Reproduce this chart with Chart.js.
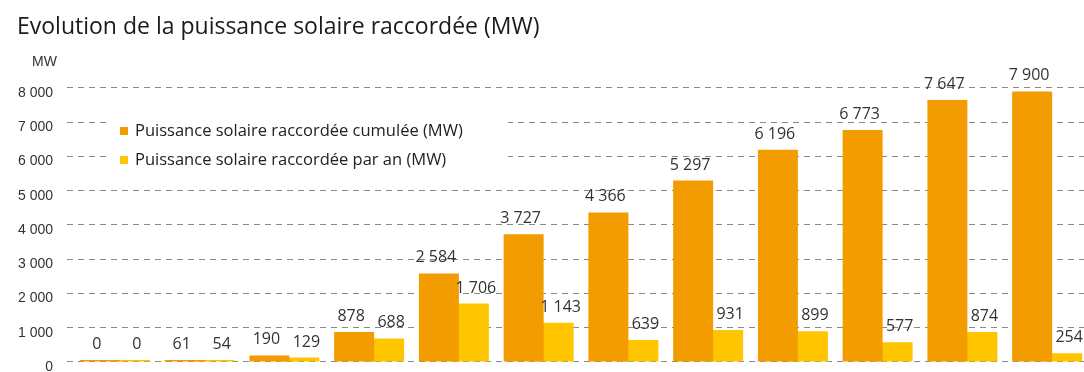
<!DOCTYPE html>
<html lang="fr">
<head>
<meta charset="utf-8">
<title>Evolution de la puissance solaire raccordée (MW)</title>
<script src="https://cdn.jsdelivr.net/npm/chart.js@4/dist/chart.umd.min.js"></script>
<style>
  html, body { margin: 0; padding: 0; background: #fff; overflow: hidden; }
  #wrap { width: 1084px; height: 372px; position: relative; }
</style>
</head>
<body>
<div id="wrap"><canvas id="c"></canvas></div>
<script>
// Series (MW)
const cumulee = [0, 61, 190, 878, 2584, 3727, 4366, 5297, 6196, 6773, 7647, 7900];
const parAn   = [0, 54, 129, 688, 1706, 1143, 639, 931, 899, 577, 874, 254];
const seriesLabels = [
  'Puissance solaire raccordée cumulée (MW)',
  'Puissance solaire raccordée par an (MW)'
];
const seriesColors = ['#F39C00', '#FFC600'];
const yTickValues = [0, 1000, 2000, 3000, 4000, 5000, 6000, 7000, 8000];
const titleText = 'Evolution de la puissance solaire raccordée (MW)';
const unitText = 'MW';

// "7900" -> "7 900"
const fmt = v => String(v).replace(/\B(?=(\d{3})+(?!\d))/g, ' ');
const slots = cumulee.map((_, i) => i);

// value labels above each bar
const valueLabels = {
  id: 'valueLabels',
  afterDatasetsDraw(chart) {
    const ctx = chart.ctx;
    const shift = [-3, 7];
    ctx.save();
    ctx.font = '16px "Open Sans", sans-serif';
    ctx.fillStyle = '#333';
    ctx.textAlign = 'center';
    ctx.textBaseline = 'alphabetic';
    chart.data.datasets.forEach((ds, di) => {
      chart.getDatasetMeta(di).data.forEach((bar, i) => {
        ctx.fillText(fmt(ds.data[i].y), bar.x + shift[di], bar.y - 11);
      });
    });
    ctx.restore();
  }
};

// legend box sitting inside the plot, over the grid lines
const innerLegend = {
  id: 'innerLegend',
  beforeDatasetsDraw(chart) {
    const ctx = chart.ctx;
    const a = chart.chartArea;
    const x0 = a.left + 43, y0 = 113;
    ctx.save();
    ctx.fillStyle = '#fff';
    ctx.fillRect(x0, y0, 398, 57);
    ctx.font = '16.5px "Open Sans", sans-serif';
    ctx.textBaseline = 'middle';
    ctx.textAlign = 'left';
    chart.data.datasets.forEach((ds, di) => {
      const cy = y0 + 18 + di * 29;
      ctx.fillStyle = ds.backgroundColor;
      ctx.fillRect(x0 + 10, cy - 4, 8, 8);
      ctx.fillStyle = '#222';
      ctx.fillText(ds.label, x0 + 25, cy);
    });
    ctx.restore();
  }
};

// unit above the value axis
const unitLabel = {
  id: 'unitLabel',
  afterDraw(chart) {
    const ctx = chart.ctx;
    const a = chart.chartArea;
    ctx.save();
    ctx.font = '14px "Liberation Sans", Arial, sans-serif';
    ctx.fillStyle = '#333';
    ctx.textAlign = 'right';
    ctx.textBaseline = 'middle';
    ctx.fillText(unitText, a.left - 10, 62);
    ctx.restore();
  }
};

new Chart(document.getElementById('c'), {
  type: 'bar',
  data: {
    datasets: [
      {
        label: seriesLabels[0],
        data: slots.map(i => ({ x: i, y: cumulee[i] })),
        backgroundColor: seriesColors[0]
      },
      {
        label: seriesLabels[1],
        data: slots.map(i => ({ x: i, y: parAn[i] })),
        backgroundColor: seriesColors[1]
      }
    ]
  },
  options: {
    responsive: true,
    maintainAspectRatio: false,
    animation: false,
    categoryPercentage: 0.708,
    barPercentage: 1.333,
    minBarLength: 2,
    borderWidth: 0,
    layout: { padding: { left: 17, right: 0, top: 0, bottom: 10 } },
    plugins: {
      legend: { display: false },
      tooltip: { enabled: false },
      title: {
        display: true,
        text: titleText,
        align: 'start',
        color: '#1a1a1a',
        font: { family: 'Open Sans', size: 23, weight: 'normal', lineHeight: 1.2 },
        padding: { top: 14, bottom: 46.4 }
      }
    },
    scales: {
      x: {
        type: 'linear',
        display: false,
        offset: false,
        grid: { offset: false },
        min: -0.565,
        max: 11.435,
        afterBuildTicks: axis => { axis.ticks = slots.map(v => ({ value: v })); }
      },
      y: {
        min: 0,
        max: 8000,
        afterBuildTicks: axis => { axis.ticks = yTickValues.map(v => ({ value: v })); },
        afterFit: axis => {
          axis.width = 50;
          axis.paddingTop = 0;
          axis.paddingBottom = 0;
        },
        grid: { color: '#888', lineWidth: 1.1, drawTicks: false },
        border: { display: false, dash: [6, 5] },
        ticks: {
          padding: 14,
          labelOffset: 5,
          color: '#333',
          font: { family: 'Liberation Sans', size: 14 },
          callback: v => fmt(v)
        }
      }
    }
  },
  plugins: [innerLegend, valueLabels, unitLabel]
});
</script>
</body>
</html>
